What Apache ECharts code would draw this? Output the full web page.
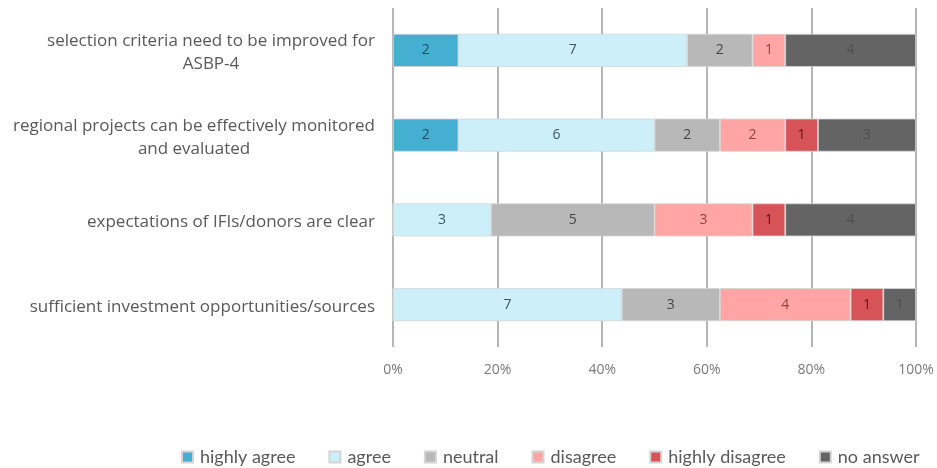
<!DOCTYPE html>
<html><head><meta charset="utf-8">
<script src="https://cdn.jsdelivr.net/npm/echarts@6/dist/echarts.min.js"></script>
<style>html,body{margin:0;padding:0;background:#fff}#c{width:937px;height:468px}</style>
</head><body><div id="c"></div>
<script>
const categories = [
  'sufficient investment opportunities/sources',
  'expectations of IFIs/donors are clear',
  'regional projects can be effectively monitored\nand evaluated',
  'selection criteria need to be improved for\nASBP-4'
];
const seriesNames = ['highly agree','agree','neutral','disagree','highly disagree','no answer'];
const highlyAgree    = [0, 0, 2, 2];
const agree          = [7, 3, 6, 7];
const neutral        = [3, 5, 2, 2];
const disagree       = [4, 3, 2, 1];
const highlyDisagree = [1, 1, 1, 0];
const noAnswer       = [1, 4, 3, 4];
const tickLabels = ['0%','20%','40%','60%','80%','100%'];

const allSeries = [highlyAgree, agree, neutral, disagree, highlyDisagree, noAnswer];
const colors = ['#45afd1','#cdeffa','#b8b8b8','#ffa5a5','#d65457','#646464'];
const labelColors = ['#1d4f66','#3c5760','#454545','#9a3d3d','#5e1414','#4e4e4e'];
const totals = categories.map((c,i)=>allSeries.reduce((s,a)=>s+a[i],0));

const chart = echarts.init(document.getElementById('c'), null, {renderer:'canvas'});
chart.setOption({
  animation:false,
  textStyle:{fontFamily:'Open Sans'},
  grid:{left:393, right:21, top:8, bottom:121, containLabel:false},
  legend:{
    data:seriesNames, top:448, left:181, right:0, padding:0, itemWidth:11, itemHeight:11, itemGap:33,
    icon:'rect',
    textStyle:{fontSize:18, color:'#595959', fontFamily:'Lato', padding:[0,0,0,2]}
  },
  xAxis:{
    type:'value', min:0, max:100, interval:20,
    axisLine:{show:false}, axisTick:{show:false},
    splitLine:{show:true, lineStyle:{color:'#b5b5b5', width:2}},
    axisLabel:{margin:16, fontSize:14, color:'#7a7a7a',
      formatter:(v)=>tickLabels[Math.round(v/20)]}
  },
  yAxis:{
    type:'category', data:categories,
    axisLine:{show:false}, axisTick:{show:false},
    axisLabel:{margin:18, fontSize:17, color:'#595959', lineHeight:23, padding:[5,0,0,0],
      formatter:(v)=>v.split('\n').map(l=>'{c|'+l+'}').join('\n'),
      rich:{c:{align:'center', fontSize:17, color:'#595959', lineHeight:23, fontFamily:'Open Sans'}}}
  },
  series: allSeries.map((arr,k)=>({
    name:seriesNames[k], type:'bar', stack:'t', barWidth:33,
    itemStyle:{color:colors[k], borderColor:'#d4d4d4', borderWidth:0.8},
    label:{show:true, position:'inside', fontSize:14, color:labelColors[k],
      formatter:(p)=> arr[p.dataIndex] ? String(arr[p.dataIndex]) : ''},
    data: arr.map((v,i)=> v/totals[i]*100)
  }))
});
</script></body></html>
